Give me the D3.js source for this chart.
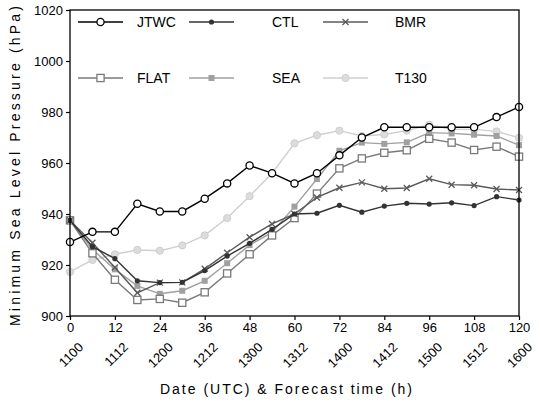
<!DOCTYPE html>
<html>
<head>
<meta charset="utf-8">
<script src="https://cdn.jsdelivr.net/npm/d3@7"></script>
<style>
  body { margin: 0; background: #fff; }
  text { font-family: "Liberation Sans", Arial, sans-serif; }
</style>
</head>
<body>
<script>
var hours = [0, 6, 12, 18, 24, 30, 36, 42, 48, 54, 60, 66, 72, 78, 84, 90, 96, 102, 108, 114, 120];
var dateLabels = ["1100", "1112", "1200", "1212", "1300", "1312", "1400", "1412", "1500", "1512", "1600"];
var yTicks = [900, 920, 940, 960, 980, 1000, 1020];

var jtwc = [929, 933, 933, 944, 941, 941, 946, 952, 959, 956, 952, 956, 963, 970, 974, 974, 974, 974, 974, 978, 982];
var ctl  = [937.5, 927.2, 922.5, 913.8, 913.1, 913.2, 917.8, 923.5, 928.5, 934, 940, 940.3, 943.4, 940.7, 943.1, 944.2, 943.9, 944.4, 943.3, 946.8, 945.5];
var bmr  = [937.5, 928.7, 919, 909.1, 913.1, 913.2, 918.5, 924.8, 930.9, 936.1, 940, 946.5, 950.3, 952.4, 949.9, 950.2, 953.8, 951.5, 951.3, 949.8, 949.4];
var flat = [937.5, 924.6, 914.2, 906.3, 906.7, 905.2, 909.3, 916.7, 924.2, 931.6, 938.4, 948, 957.9, 961.8, 964, 965, 969.5, 968, 965.1, 966.4, 962.5];
var sea  = [937.5, 926.1, 918.3, 911.8, 908.7, 909.9, 913.8, 920.7, 927.8, 932.8, 942.9, 953.7, 964.8, 968, 967.5, 968.1, 971.9, 971.6, 971.1, 970.6, 967];
var t130 = [917.3, 922, 924.2, 925.9, 925.6, 927.7, 931.6, 938.4, 947, 956, 967.7, 970.9, 972.7, 970.6, 971.2, 972.7, 975, 973.2, 973.2, 972.4, 969.9];

var series = [
  { name: "JTWC", values: jtwc, color: "#000", marker: "openCircle" },
  { name: "CTL",  values: ctl,  color: "#333", marker: "dot" },
  { name: "BMR",  values: bmr,  color: "#5a5a5a", marker: "cross" },
  { name: "FLAT", values: flat, color: "#7a7a7a", marker: "openSquare" },
  { name: "SEA",  values: sea,  color: "#a0a0a0", marker: "filledSquare" },
  { name: "T130", values: t130, color: "#cfcfcf", marker: "lightCircle" }
];

var width = 540, height = 404;
var plotLeft = 70, plotRight = 519, plotTop = 10, plotBottom = 316;

var svg = d3.select("body").append("svg")
  .attr("width", width)
  .attr("height", height);

var x = d3.scaleLinear().domain([0, 120]).range([plotLeft, plotRight]);
var y = d3.scaleLinear().domain([900, 1020]).range([plotBottom, plotTop]);

function drawMarker(g, type, color, cx, cy) {
  if (type == "openCircle") {
    g.append("circle").attr("cx", cx).attr("cy", cy).attr("r", 3.6)
      .attr("fill", "#fff").attr("stroke", color).attr("stroke-width", 1.3);
  } else if (type == "dot") {
    g.append("circle").attr("cx", cx).attr("cy", cy).attr("r", 2.6).attr("fill", color);
  } else if (type == "cross") {
    g.append("path")
      .attr("d", "M" + (cx - 3) + "," + (cy - 3) + "L" + (cx + 3) + "," + (cy + 3) +
                 "M" + (cx - 3) + "," + (cy + 3) + "L" + (cx + 3) + "," + (cy - 3))
      .attr("stroke", color).attr("stroke-width", 1.3);
  } else if (type == "openSquare") {
    g.append("rect").attr("x", cx - 3.6).attr("y", cy - 3.6).attr("width", 7.2).attr("height", 7.2)
      .attr("fill", "#fff").attr("stroke", color).attr("stroke-width", 1.3);
  } else if (type == "filledSquare") {
    g.append("rect").attr("x", cx - 3).attr("y", cy - 3).attr("width", 6).attr("height", 6)
      .attr("fill", color);
  } else if (type == "lightCircle") {
    g.append("circle").attr("cx", cx).attr("cy", cy).attr("r", 3.6)
      .attr("fill", "#dcdcdc").attr("stroke", color).attr("stroke-width", 1);
  }
}

// lines, drawn back to front so JTWC sits on top
var line = d3.line()
  .x(function(d, i) { return x(hours[i]); })
  .y(function(d) { return y(d); });

series.slice().reverse().forEach(function(s) {
  var g = svg.append("g");
  g.append("path")
    .attr("d", line(s.values))
    .attr("fill", "none")
    .attr("stroke", s.color)
    .attr("stroke-width", 1.4);
  s.values.forEach(function(v, i) {
    drawMarker(g, s.marker, s.color, x(hours[i]), y(v));
  });
});

// frame
svg.append("rect")
  .attr("x", plotLeft).attr("y", plotTop)
  .attr("width", plotRight - plotLeft).attr("height", plotBottom - plotTop)
  .attr("fill", "none").attr("stroke", "#000").attr("stroke-width", 1.3);

// axes
var yAxis = svg.append("g")
  .attr("transform", "translate(" + plotLeft + ",0)")
  .call(d3.axisLeft(y).tickValues(yTicks).tickFormat(d3.format("d")).tickSize(4).tickPadding(3));

var xAxis = svg.append("g")
  .attr("transform", "translate(0," + plotBottom + ")")
  .call(d3.axisBottom(x).tickValues(d3.range(0, 121, 12)).tickFormat(d3.format("d")).tickSize(4).tickPadding(3));

[yAxis, xAxis].forEach(function(a) {
  a.select(".domain").remove();
  a.selectAll("line").attr("stroke", "#000").attr("stroke-width", 1.2);
  a.selectAll("text").attr("font-size", 13).attr("fill", "#000")
    .style("font-family", "'Liberation Sans', Arial, sans-serif");
});

// date labels, rotated
svg.append("g").selectAll("text")
  .data(dateLabels)
  .enter()
  .append("text")
  .text(function(d) { return d; })
  .attr("transform", function(d, i) {
    return "translate(" + (x(i * 12) + 14) + "," + 348 + ") rotate(-45)";
  })
  .attr("text-anchor", "end")
  .attr("font-size", 13);

// axis titles
svg.append("text")
  .text("Date (UTC) & Forecast time (h)")
  .attr("x", 286).attr("y", 394)
  .attr("text-anchor", "middle")
  .attr("font-size", 14)
  .attr("textLength", 252)
  .attr("lengthAdjust", "spacing");

svg.append("text")
  .text("Minimum Sea Level Pressure (hPa)")
  .attr("transform", "translate(20,166) rotate(-90)")
  .attr("text-anchor", "middle")
  .attr("font-size", 14)
  .attr("textLength", 320)
  .attr("lengthAdjust", "spacing");

// legend, two rows of three
var legendPos = [
  { lx: 78, tx: 137, ly: 22 },
  { lx: 189, tx: 272, ly: 22 },
  { lx: 323, tx: 395, ly: 22 },
  { lx: 78, tx: 137, ly: 78 },
  { lx: 189, tx: 272, ly: 78 },
  { lx: 323, tx: 395, ly: 78 }
];

series.forEach(function(s, i) {
  var p = legendPos[i];
  var g = svg.append("g");
  g.append("line")
    .attr("x1", p.lx).attr("x2", p.lx + 45)
    .attr("y1", p.ly).attr("y2", p.ly)
    .attr("stroke", s.color).attr("stroke-width", 1.4);
  drawMarker(g, s.marker, s.color, p.lx + 22.5, p.ly);
  g.append("text")
    .text(s.name)
    .attr("x", p.tx).attr("y", p.ly + 5)
    .attr("font-size", 14);
});
</script>
</body>
</html>
